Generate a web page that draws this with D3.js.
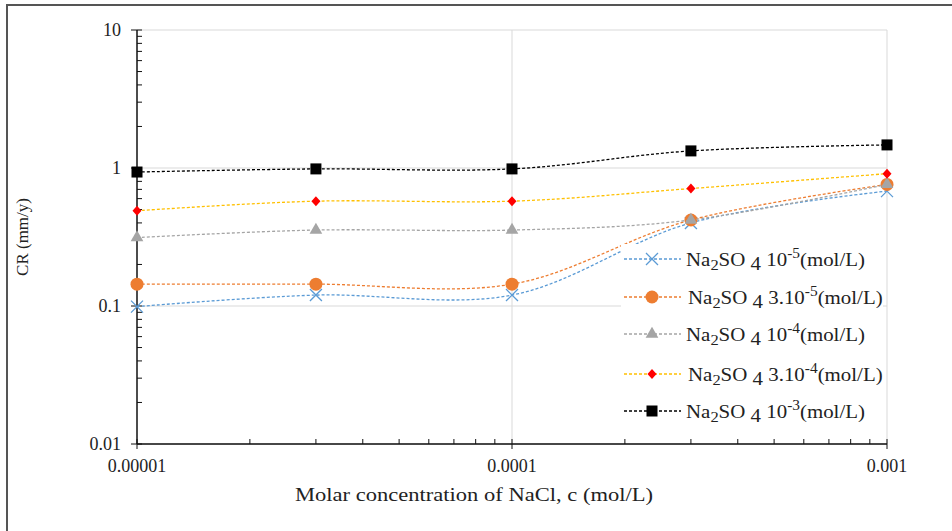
<!DOCTYPE html>
<html>
<head>
<meta charset="utf-8">
<script src="https://cdn.jsdelivr.net/npm/d3@7"></script>
<style>
  body { margin: 0; background: #fff; }
  text { font-family: "Liberation Serif", "Times New Roman", serif; fill: #222; }
</style>
</head>
<body>
<div id="vis-container"></div>
<script>
// data
const concNaCl = [0.00001, 0.00003, 0.0001, 0.0003, 0.001];
const xTickLabels = ["0.00001", "0.0001", "0.001"];
const yTickLabels = ["0.01", "0.1", "1", "10"];

const cr_1e5 = [0.099, 0.12, 0.12, 0.40, 0.68];
const cr_3e5 = [0.144, 0.144, 0.144, 0.42, 0.76];
const cr_1e4 = [0.313, 0.355, 0.355, 0.42, 0.76];
const cr_3e4 = [0.49, 0.575, 0.575, 0.71, 0.91];
const cr_1e3 = [0.935, 0.985, 0.985, 1.33, 1.47];

const seriesNames = [
  { coef: "", exp: "-5" },
  { coef: "3.", exp: "-5" },
  { coef: "", exp: "-4" },
  { coef: "3.", exp: "-4" },
  { coef: "", exp: "-3" }
];

const width = 952;
const height = 531;
const margin = { top: 30, right: 65, bottom: 87, left: 137 };

const svg = d3.select("#vis-container")
  .append("svg")
    .attr("width", width)
    .attr("height", height);

// outer frame
svg.append("rect")
  .attr("x", 7).attr("y", 5)
  .attr("width", width + 20).attr("height", height + 20)
  .attr("fill", "none")
  .attr("stroke", "#555")
  .attr("stroke-width", 2);

const x = d3.scaleLog()
  .domain([0.00001, 0.001])
  .range([margin.left, width - margin.right]);

const y = d3.scaleLog()
  .domain([0.01, 10])
  .range([height - margin.bottom, margin.top]);

const majorX = xTickLabels.map(Number);
const majorY = yTickLabels.map(Number);

// gridlines
svg.append("g")
  .selectAll("line")
  .data(majorY)
  .enter()
    .append("line")
    .attr("x1", x.range()[0]).attr("x2", x.range()[1])
    .attr("y1", d => y(d)).attr("y2", d => y(d))
    .attr("stroke", "#d9d9d9").attr("stroke-width", 1);

svg.append("g")
  .selectAll("line")
  .data(majorX.slice(1))
  .enter()
    .append("line")
    .attr("x1", d => x(d)).attr("x2", d => x(d))
    .attr("y1", y.range()[0]).attr("y2", y.range()[1])
    .attr("stroke", "#d9d9d9").attr("stroke-width", 1);

// minor ticks (2..9 of every decade)
const minorX = x.ticks().filter(d => !majorX.some(m => Math.abs(m - d) / m < 1e-6));
const minorY = y.ticks().filter(d => !majorY.some(m => Math.abs(m - d) / m < 1e-6));

const axisG = svg.append("g").attr("stroke", "#111");

axisG.append("line")
  .attr("x1", x.range()[0]).attr("x2", x.range()[1])
  .attr("y1", y(0.01)).attr("y2", y(0.01))
  .attr("stroke-width", 1.5);

axisG.append("line")
  .attr("x1", x(0.00001)).attr("x2", x(0.00001))
  .attr("y1", y.range()[0]).attr("y2", y.range()[1])
  .attr("stroke-width", 1.5);

axisG.selectAll(".mx")
  .data(minorX)
  .enter()
    .append("line")
    .attr("x1", d => x(d)).attr("x2", d => x(d))
    .attr("y1", y(0.01)).attr("y2", y(0.01) - 5);

axisG.selectAll(".Mx")
  .data(majorX)
  .enter()
    .append("line")
    .attr("x1", d => x(d)).attr("x2", d => x(d))
    .attr("y1", y(0.01) - 5).attr("y2", y(0.01) + 5);

axisG.selectAll(".my")
  .data(minorY)
  .enter()
    .append("line")
    .attr("x1", x(0.00001)).attr("x2", x(0.00001) + 5)
    .attr("y1", d => y(d)).attr("y2", d => y(d));

axisG.selectAll(".My")
  .data(majorY)
  .enter()
    .append("line")
    .attr("x1", x(0.00001) - 6).attr("x2", x(0.00001) + 5)
    .attr("y1", d => y(d)).attr("y2", d => y(d));

// tick labels
svg.append("g")
  .selectAll("text")
  .data(xTickLabels)
  .enter()
    .append("text")
    .attr("x", d => x(+d))
    .attr("y", y(0.01) + 28)
    .attr("text-anchor", "middle")
    .style("font-size", "18px")
    .text(d => d);

svg.append("g")
  .selectAll("text")
  .data(yTickLabels)
  .enter()
    .append("text")
    .attr("x", x(0.00001) - 16)
    .attr("y", d => y(+d) + 6)
    .attr("text-anchor", "end")
    .style("font-size", "18px")
    .text(d => d);

// axis titles
svg.append("text")
  .attr("x", 295)
  .attr("y", 501)
  .attr("textLength", 358)
  .attr("lengthAdjust", "spacingAndGlyphs")
  .style("font-size", "18px")
  .text("Molar concentration of NaCl, c (mol/L)");

svg.append("text")
  .attr("transform", "translate(28, 237) rotate(-90)")
  .attr("text-anchor", "middle")
  .style("font-size", "17px")
  .text("CR (mm/y)");

// series
const allSeries = [
  { values: cr_1e5, line: "#5b9bd5", mark: "#5b9bd5", shape: "x" },
  { values: cr_3e5, line: "#ed7d31", mark: "#ed7d31", shape: "circle" },
  { values: cr_1e4, line: "#a5a5a5", mark: "#a5a5a5", shape: "triangle" },
  { values: cr_3e4, line: "#ffc000", mark: "#ff0000", shape: "diamond" },
  { values: cr_1e3, line: "#000000", mark: "#000000", shape: "square" }
];

const line = d3.line()
  .x(d => x(d[0]))
  .y(d => y(d[1]))
  .curve(d3.curveCatmullRom.alpha(0));

function drawMarker(g, shape, color) {
  if (shape === "x") {
    g.append("path")
      .attr("d", "M-6,-6L6,6M-6,6L6,-6")
      .attr("stroke", color).attr("stroke-width", 1.3).attr("fill", "none");
  } else if (shape === "circle") {
    g.append("circle").attr("r", 6.5).attr("fill", color);
  } else if (shape === "triangle") {
    g.append("path").attr("d", d3.symbol(d3.symbolTriangle, 70)()).attr("fill", color);
  } else if (shape === "diamond") {
    g.append("path").attr("d", "M0,-5L4.5,0L0,5L-4.5,0Z").attr("fill", color);
  } else {
    g.append("rect").attr("x", -5.5).attr("y", -5.5)
      .attr("width", 11).attr("height", 11).attr("fill", color);
  }
}

allSeries.forEach(s => {
  const pts = concNaCl.map((c, i) => [c, s.values[i]]);
  svg.append("path")
    .datum(pts)
    .attr("d", line)
    .attr("fill", "none")
    .attr("stroke", s.line)
    .attr("stroke-width", 1.3)
    .attr("stroke-dasharray", "3,2");

  pts.forEach(p => {
    const g = svg.append("g").attr("transform", `translate(${x(p[0])}, ${y(p[1])})`);
    drawMarker(g, s.shape, s.mark);
  });
});

// legend
const legend = svg.append("g");
legend.append("rect")
  .attr("x", 621).attr("y", 244)
  .attr("width", 262).attr("height", 186)
  .attr("fill", "#fff");

const legendY = [259, 297, 334, 374, 411];

allSeries.forEach((s, i) => {
  const ly = legendY[i];
  const item = legend.append("g");
  item.append("line")
    .attr("x1", 624).attr("x2", 681)
    .attr("y1", ly).attr("y2", ly)
    .attr("stroke", s.line)
    .attr("stroke-width", 1.3)
    .attr("stroke-dasharray", "3,2");
  drawMarker(item.append("g").attr("transform", `translate(652, ${ly})`), s.shape, s.mark);

  const tx = seriesNames[i].coef ? 688 : 686;
  const t = item.append("text")
    .attr("transform", `translate(${tx}, ${ly + 7}) scale(1.1, 1)`)
    .style("font-size", "19px");
  t.append("tspan").text("Na");
  t.append("tspan").attr("dy", 4).style("font-size", "15px").text("2");
  t.append("tspan").attr("dy", -4).text("SO");
  t.append("tspan").attr("dy", 4).text(" 4");
  t.append("tspan").attr("dy", -4).text(" " + seriesNames[i].coef + "10");
  t.append("tspan").attr("dy", -8).style("font-size", "14px").text(seriesNames[i].exp);
  t.append("tspan").attr("dy", 8).text("(mol/L)");
});
</script>
</body>
</html>
